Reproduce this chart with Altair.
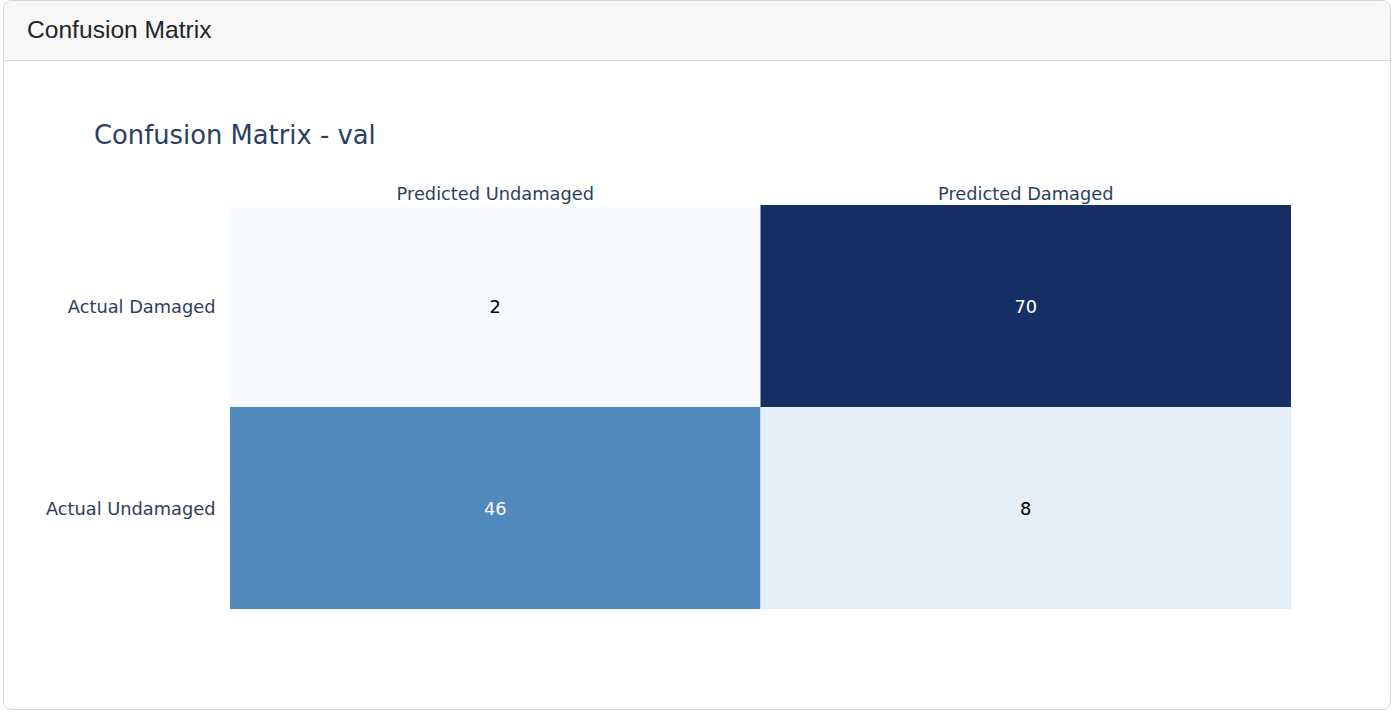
import altair as alt
import pandas as pd

# Data
predicted = ["Predicted Undamaged", "Predicted Damaged"]
actual = ["Actual Damaged", "Actual Undamaged"]
counts = [[2, 70], [46, 8]]  # rows: actual, cols: predicted

# Colour stops observed for each count
color_domain = [2, 8, 46, 70]
color_range = ["#f7fbff", "#e6eef8", "#5289bd", "#163066"]

rows = []
for i, a in enumerate(actual):
    for j, p in enumerate(predicted):
        rows.append({"actual": a, "predicted": p, "value": counts[i][j]})
df = pd.DataFrame(rows)

W, H = 1061, 404
LEFT, TOP = 230, 205
TOTAL_W, TOTAL_H = 1394, 714
LABEL_FONT = "DejaVu Sans"
LABEL_COLOR = "#2a3f5f"
LABEL_SIZE = 17.8

base = alt.Chart(df)

x_enc = alt.X(
    "predicted:N",
    sort=predicted,
    scale=alt.Scale(paddingInner=0, paddingOuter=0),
    axis=alt.Axis(
        orient="top", title=None, ticks=False, domain=False, labelAngle=0,
        labelFontSize=LABEL_SIZE, labelColor=LABEL_COLOR, labelFont=LABEL_FONT,
        labelPadding=2, labelLimit=0,
    ),
)
y_enc = alt.Y(
    "actual:N",
    sort=actual,
    scale=alt.Scale(paddingInner=0, paddingOuter=0),
    axis=alt.Axis(
        title=None, ticks=False, domain=False,
        labelFontSize=LABEL_SIZE, labelColor=LABEL_COLOR, labelFont=LABEL_FONT,
        labelPadding=15, labelLimit=0, labelOffset=2,
    ),
)

cells = base.mark_rect().encode(
    x=x_enc,
    y=y_enc,
    color=alt.Color(
        "value:Q",
        scale=alt.Scale(domain=color_domain, range=color_range),
        legend=None,
    ),
)

labels = base.mark_text(font=LABEL_FONT, fontSize=LABEL_SIZE, dy=2).encode(
    x=alt.X("predicted:N", sort=predicted),
    y=alt.Y("actual:N", sort=actual),
    text="value:Q",
    color=alt.condition("datum.value > 30", alt.value("white"), alt.value("black")),
)

one = alt.Data(values=[{}])

card = alt.Chart(one).mark_rect(
    fill="white", stroke="#d6d6d6", strokeWidth=1, cornerRadius=8
).encode(
    x=alt.value(3.5 - LEFT), x2=alt.value(1390.5 - LEFT),
    y=alt.value(0.5 - TOP), y2=alt.value(709.5 - TOP),
)

header_bg = alt.Chart(one).mark_rect(
    fill="#f7f7f7", cornerRadiusTopLeft=8, cornerRadiusTopRight=8
).encode(
    x=alt.value(4 - LEFT), x2=alt.value(1390 - LEFT),
    y=alt.value(1 - TOP), y2=alt.value(60 - TOP),
)

header_line = alt.Chart(one).mark_rule(color="#d6d6d6", strokeWidth=1).encode(
    x=alt.value(4 - LEFT), x2=alt.value(1390 - LEFT),
    y=alt.value(60.5 - TOP),
)

header_text = alt.Chart(one).mark_text(
    text="Confusion Matrix", align="left", baseline="middle",
    font="Liberation Sans", fontSize=24.6, color="#212529",
).encode(x=alt.value(27 - LEFT), y=alt.value(31 - TOP))

title_text = alt.Chart(one).mark_text(
    text="Confusion Matrix - val", align="left", baseline="middle",
    font=LABEL_FONT, fontSize=25.8, color=LABEL_COLOR,
).encode(x=alt.value(94 - LEFT), y=alt.value(136 - TOP))

chart = alt.layer(
    card, header_bg, header_line, header_text, title_text, cells, labels
).resolve_scale(
    color="independent"
).properties(
    width=W, height=H,
    autosize=alt.AutoSizeParams(type="none"),
    padding={"left": LEFT, "top": TOP, "right": TOTAL_W - LEFT - W, "bottom": TOTAL_H - TOP - H},
    background="white",
).configure_view(stroke=None)

chart.save("out.html", embed_options={"renderer": "svg", "actions": False})
